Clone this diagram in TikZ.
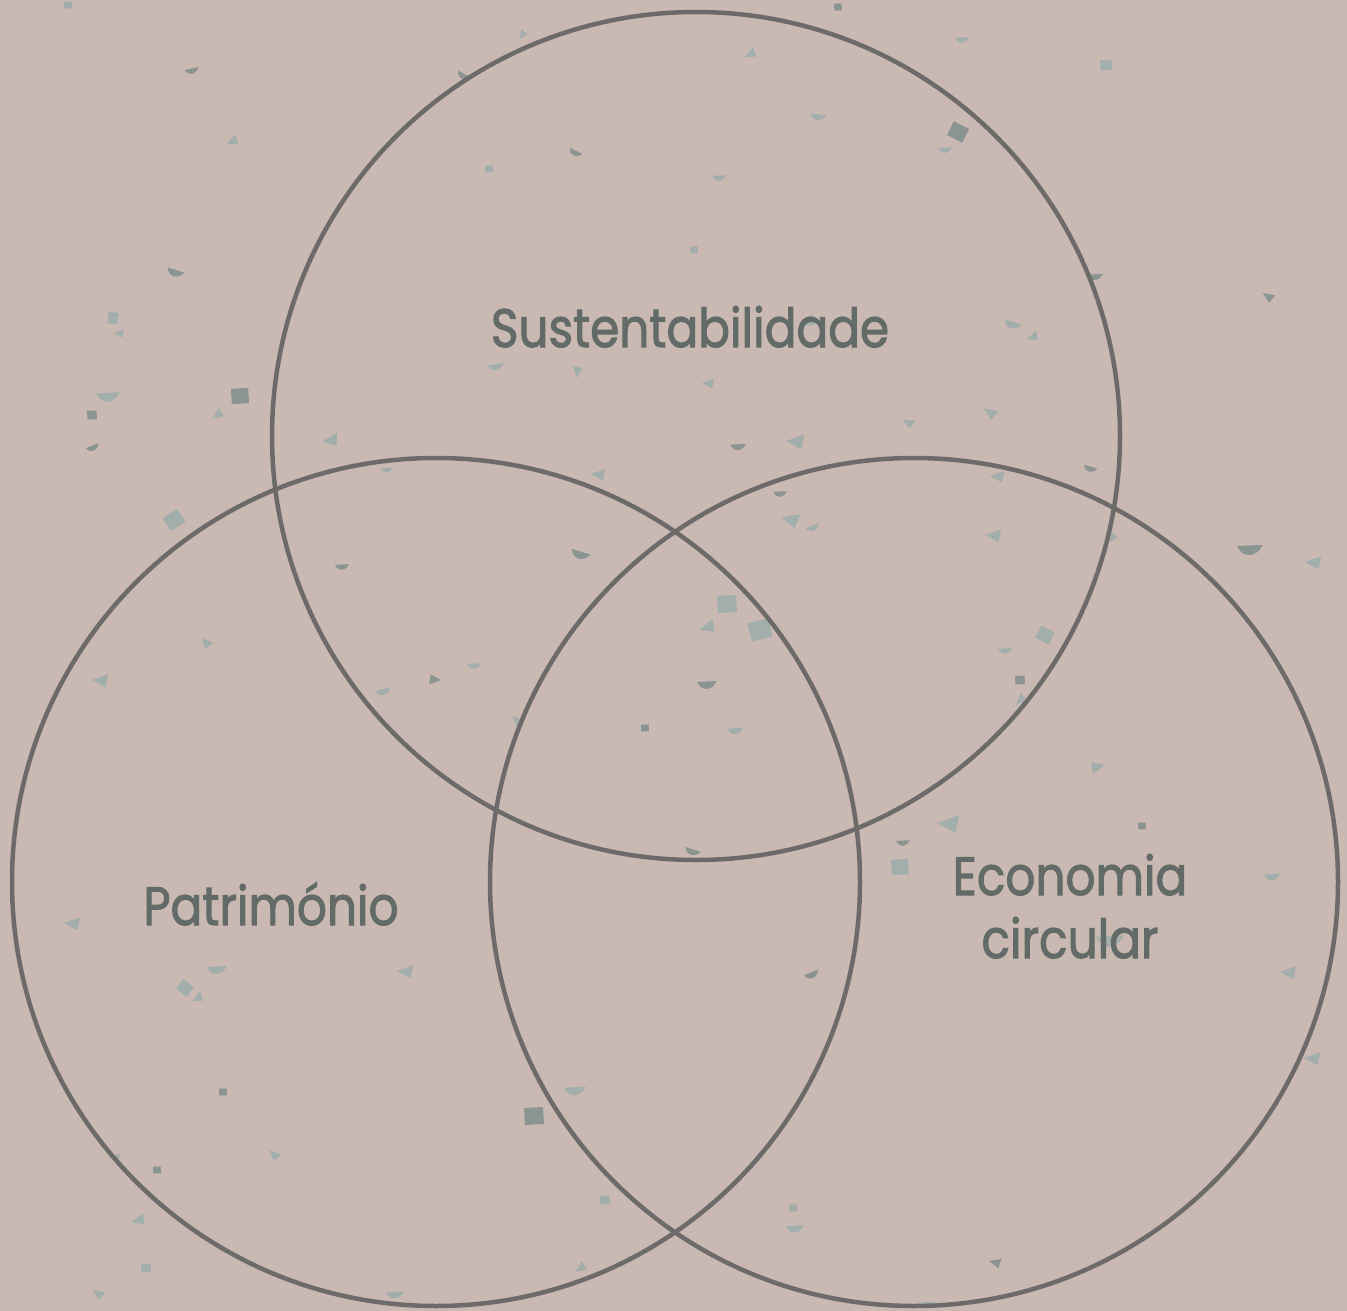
\documentclass[tikz,border=0pt]{standalone}
\usepackage{fontspec}
\setmainfont{Poppins}[FakeBold=2]
\definecolor{bgc}{HTML}{C9B9B2}
\definecolor{ringc}{HTML}{6D6B69}
\definecolor{txtc}{HTML}{626B67}
\definecolor{spL}{HTML}{A2AEAB}
\definecolor{spD}{HTML}{8A9491}
\tikzset{
  ring/.style={draw=ringc, line width=4.5pt},
  lbl/.style={text=txtc, font=\fontsize{54}{63}\selectfont, align=center, inner sep=0pt, xscale=0.87},
  speckL/.style={fill=spL},
  speckD/.style={fill=spD},
}
\begin{document}
\begin{tikzpicture}[x=1pt,y=-1pt]
\useasboundingbox (0,0) rectangle (1347,1311);
\fill[bgc] (0,0) rectangle (1347,1311);
% speckles: x/y/rotation/size/colour/kind
\foreach \x/\y/\r/\s/\c/\k in {
68/5/0/4/speckL/1, 192/71/10/7/speckD/3, 232/141/30/6/speckL/2, 175/273/-20/9/speckD/3,
113/318/80/6/speckL/1, 119/333/0/5/speckL/2, 108/397/0/12/speckL/3, 240/396/0/9/speckD/1,
217/415/40/6/speckL/2, 92/415/0/5/speckD/1, 93/448/20/7/speckD/3, 174/520/30/9/speckL/1,
330/440/10/8/speckL/2, 387/470/0/6/speckL/3, 342/567/0/7/speckD/3, 580/555/-20/10/speckD/3,
598/474/0/7/speckL/2, 522/35/60/5/speckL/2, 463/76/-30/7/speckD/3, 575/153/-30/7/speckD/3,
489/169/0/4/speckL/1, 719/178/0/7/speckL/3, 694/250/0/4/speckL/1, 750/54/30/6/speckL/2,
818/117/-10/8/speckL/3, 838/7/0/4/speckD/1, 962/40/0/7/speckL/3, 1106/65/0/6/speckL/1,
958/132/-30/9/speckD/1, 945/150/0/7/speckL/3, 1095/277/0/8/speckD/3, 1268/296/-30/6/speckD/2,
1012/325/-20/9/speckL/3, 1032/337/20/6/speckL/2, 808/322/30/7/speckL/2, 577/372/90/6/speckL/2,
496/367/10/8/speckL/3, 708/383/0/6/speckL/2, 738/447/0/8/speckD/3, 795/441/0/9/speckL/2,
908/422/-20/6/speckL/2, 990/412/-30/7/speckL/2, 1090/469/-20/7/speckD/3, 997/476/0/7/speckL/2,
780/494/0/7/speckD/3, 790/519/-10/9/speckL/2, 813/528/20/7/speckL/3, 993/535/0/8/speckL/2,
1112/538/60/5/speckL/2, 1250/550/0/13/speckD/3, 1313/562/0/8/speckL/2, 727/604/0/10/speckL/1,
707/627/20/8/speckL/2, 760/630/10/11/speckL/1, 1045/635/-30/8/speckL/1, 1005/651/0/7/speckL/3,
1020/680/0/5/speckD/1, 1020/700/50/6/speckL/2, 707/685/0/10/speckD/3, 645/728/0/4/speckD/1,
735/731/0/8/speckL/3, 517/720/-40/6/speckL/2, 474/666/0/7/speckL/3, 435/680/180/6/speckD/2,
383/692/10/8/speckL/3, 206/642/-40/6/speckL/2, 100/680/0/8/speckL/2, 1098/767/200/7/speckL/2,
948/823/0/11/speckL/2, 903/843/0/7/speckD/3, 900/867/0/9/speckL/1, 1142/826/0/4/speckD/1,
692/852/-20/8/speckD/3, 1272/877/0/8/speckL/3, 1110/941/0/14/speckL/3, 812/975/20/8/speckD/3,
1288/972/0/8/speckL/2, 1312/1058/0/8/speckL/2, 72/923/0/8/speckL/2, 217/970/0/10/speckL/3,
405/971/0/8/speckL/2, 185/988/-40/7/speckL/1, 197/998/30/6/speckL/2, 223/1092/0/4/speckD/1,
575/1091/0/11/speckL/3, 534/1116/0/10/speckD/1, 115/1157/0/5/speckL/2, 157/1170/0/4/speckD/1,
274/1154/-40/6/speckL/2, 138/1220/20/7/speckL/2, 605/1200/0/5/speckL/1, 793/1208/0/4/speckL/1,
795/1229/0/9/speckL/3, 146/1268/0/5/speckL/1, 98/1293/-30/6/speckL/2, 580/1268/40/6/speckL/2,
395/1295/0/9/speckL/3, 995/1262/-10/6/speckD/2, 928/1304/0/6/speckL/3%
}{
  \ifcase\k\or
    \fill[\c, shift={(\x,\y)}, rotate=\r, scale=\s] (-1,-0.8) -- (0.9,-0.9) -- (1,0.8) -- (-0.9,0.9) -- cycle;
  \or
    \fill[\c, shift={(\x,\y)}, rotate=\r, scale=\s] (-1,0) -- (1,-0.7) -- (0.7,0.9) -- cycle;
  \or
    \fill[\c, shift={(\x,\y)}, rotate=\r, scale=\s] (-1,-0.3) -- (1,-0.4) .. controls (0.6,0.2) .. (0,0.4) .. controls (-0.6,0.3) .. (-1,-0.3) -- cycle;
  \fi
}
% circles
\draw[ring] (696,436) circle[radius=424pt];
\draw[ring] (436,882) circle[radius=424pt];
\draw[ring] (914,882) circle[radius=424pt];
% labels
\node[lbl, anchor=base] (sus) at (690,347) {Sustentabilidade};
\node[lbl, anchor=base] (pat) at (271,925) {Património};
\node[lbl, anchor=base] (eco) at (1070,895) {Economia};
\node[lbl, anchor=base] (cir) at (1070,958) {circular};
\end{tikzpicture}
\end{document}
